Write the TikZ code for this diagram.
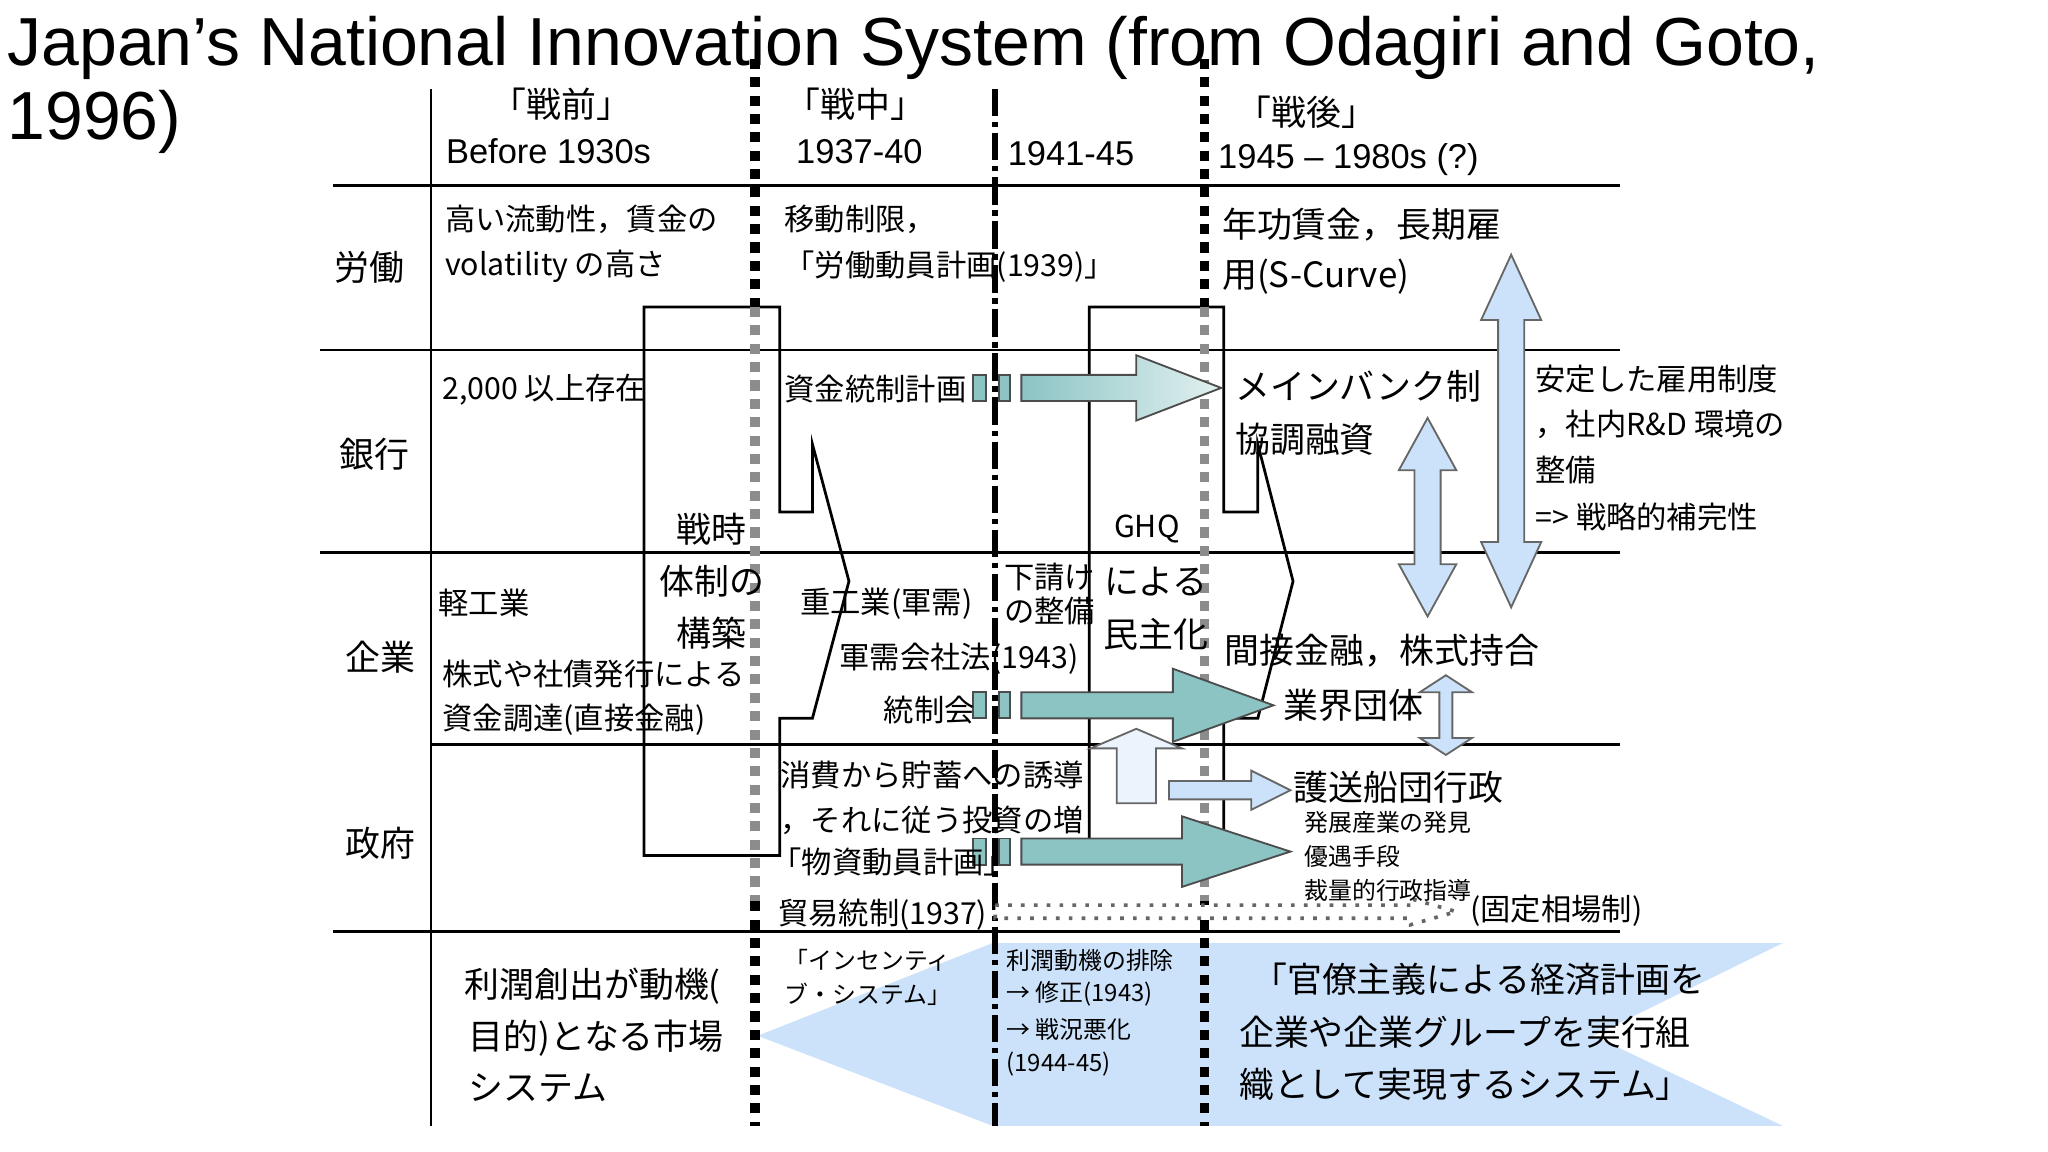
\documentclass[tikz,border=0pt]{standalone}
\usepackage{fontspec}
\setmainfont{Liberation Sans}
\newfontfamily\jp{Noto Sans CJK JP}
\definecolor{lb}{HTML}{CCE2FA}
\definecolor{tl}{HTML}{8CC4C4}
\begin{document}
\begin{tikzpicture}[x=0.01cm,y=-0.01cm,
 t/.style={anchor=west,inner sep=0pt,font=\jp\fontsize{6.6}{8}\selectfont},
 tb/.style={anchor=west,inner sep=0pt,font=\jp\fontsize{7.6}{9}\selectfont},
 ts/.style={anchor=west,inner sep=0pt,font=\jp\fontsize{5.2}{6}\selectfont},
 en/.style={anchor=west,inner sep=0pt,font=\fontsize{7.5}{9}\selectfont},
 grid/.style={line width=0.6pt,black},
 blk/.style={draw=black,line width=0.6pt},
 dots/.style={line width=2pt,dash pattern=on 2.2pt off 1.8pt},
 teal/.style={draw=black!70,line width=0.4pt,fill=tl},
 blue/.style={draw=black!60,line width=0.4pt,fill=lb}]
\useasboundingbox (0,0) rectangle (1568,882);
% bottom blue shape
\fill[lb] (580,793) -- (760,722) -- (1365,722) -- (1220,793) -- (1365,862) -- (760,862) -- cycle;
% grid
\draw[grid] (255,142) -- (1240,142);
\draw[grid] (245,268) -- (1240,268);
\draw[grid] (245,423) -- (1240,423);
\draw[grid] (330,570) -- (1240,570);
\draw[grid] (255,713) -- (1240,713);
\draw[grid] (330,68) -- (330,862);
% block chevrons
\draw[blk] (493,235) -- (597,235) -- (597,392) -- (622,392) -- (622,340) -- (650,445) -- (622,550) -- (597,550) -- (597,655) -- (493,655) -- cycle;
\draw[blk] (834,235) -- (937,235) -- (937,392) -- (963,392) -- (963,340) -- (990,445) -- (963,550) -- (937,550) -- (937,655) -- (834,655) -- cycle;
% time dividers
\draw[dots] (578,45) -- (578,235);
\draw[dots,black!45] (578,235) -- (578,690);
\draw[dots] (578,690) -- (578,862);
\draw[line width=1.3pt,dash pattern=on 6pt off 1.2pt on 1.2pt off 1.2pt] (762,68) -- (762,862);
\draw[dots] (922,45) -- (922,235);
\draw[dots,black!45] (922,235) -- (922,690);
\draw[dots] (922,690) -- (922,862);
% teal arrows
\foreach \y in {297,540,652}{
 \draw[teal] (745,\y-10) rectangle (755,\y+10);
 \draw[teal] (765,\y-10) rectangle (773,\y+10);}
\draw[teal,left color=tl,right color=tl!25] (782,287) -- (870,287) -- (870,272) -- (935,297) -- (870,322) -- (870,307) -- (782,307) -- cycle;
\draw[teal] (782,530) -- (898,530) -- (898,512) -- (975,540) -- (898,568) -- (898,550) -- (782,550) -- cycle;
\draw[teal] (782,642) -- (905,642) -- (905,625) -- (988,652) -- (905,679) -- (905,662) -- (782,662) -- cycle;
% blue arrows
\draw[blue] (1157,195) -- (1180,245) -- (1167,245) -- (1167,415) -- (1180,415) -- (1157,465) -- (1134,415) -- (1147,415) -- (1147,245) -- (1134,245) -- cycle;
\draw[blue] (1093,320) -- (1115,360) -- (1103,360) -- (1103,432) -- (1115,432) -- (1093,472) -- (1071,432) -- (1083,432) -- (1083,360) -- (1071,360) -- cycle;
\draw[blue] (1107,517) -- (1127,530) -- (1112,530) -- (1112,565) -- (1127,565) -- (1107,578) -- (1087,565) -- (1102,565) -- (1102,530) -- (1087,530) -- cycle;
\draw[blue] (988,605) -- (958,590) -- (958,598) -- (895,598) -- (895,612) -- (958,612) -- (958,620) -- cycle;
\draw[blue,fill=lb!40] (870,558) -- (905,573) -- (885,573) -- (885,615) -- (855,615) -- (855,573) -- (835,573) -- cycle;
\draw[black!60,dotted,line width=0.8pt,fill=white] (762,693) -- (1080,693) -- (1080,688) -- (1115,698) -- (1080,708) -- (1080,703) -- (762,703) -- cycle;
% title
\node[anchor=west,inner sep=0pt,font=\fontsize{14.8}{16}\selectfont] at (5,37) {Japan’s National Innovation System (from Odagiri and Goto,};
\node[anchor=west,inner sep=0pt,font=\fontsize{14.8}{16}\selectfont] at (5,93) {1996)};
% headers
\node[t,anchor=center,font=\jp\fontsize{7.6}{9}\selectfont] at (430,80) {「戦前」};
\node[en,anchor=center] at (420,116) {Before 1930s};
\node[t,anchor=center,font=\jp\fontsize{7.6}{9}\selectfont] at (655,80) {「戦中」};
\node[en,anchor=center] at (658,116) {1937-40};
\node[en,anchor=center] at (820,118) {1941-45};
\node[t,anchor=center,font=\jp\fontsize{7.6}{9}\selectfont] at (1000,86) {「戦後」};
\node[en] at (932,122) {1945 – 1980s (?)};
% row labels
\node[tb,anchor=center] at (283,205) {労働};
\node[tb,anchor=center] at (287,348) {銀行};
\node[tb,anchor=center] at (291,503) {企業};
\node[tb,anchor=center] at (291,646) {政府};
% labour
\node[t] at (340,168) {高い流動性，賃金の};
\node[t] at (340,204) {volatility の高さ};
\node[t] at (600,168) {移動制限，};
\node[t] at (600,204) {「労働動員計画(1939)」};
\node[tb] at (935,172) {年功賃金，長期雇};
\node[tb] at (935,212) {用(S-Curve)};
% banks
\node[t] at (338,298) {2,000 以上存在};
\node[t] at (600,298) {資金統制計画};
\node[tb] at (945,296) {メインバンク制};
\node[tb] at (945,336) {協調融資};
\node[t] at (1175,290) {安定した雇用制度};
\node[t] at (1175,325) {，社内R\&D 環境の};
\node[t] at (1175,360) {整備};
\node[t] at (1175,396) {=> 戦略的補完性};
\node[tb,anchor=center] at (545,405) {戦時};
\node[tb,anchor=center] at (545,445) {体制の};
\node[tb,anchor=center] at (545,485) {構築};
\node[t,anchor=center] at (878,405) {GHQ};
\node[tb,anchor=center] at (885,445) {による};
\node[tb,anchor=center] at (885,486) {民主化};
% firms
\node[t] at (335,462) {軽工業};
\node[t] at (338,516) {株式や社債発行による};
\node[t] at (338,551) {資金調達(直接金融)};
\node[t] at (612,462) {重工業(軍需)};
\node[t] at (642,504) {軍需会社法(1943)};
\node[t] at (676,544) {統制会};
\node[t] at (768,442) {下請け};
\node[t] at (768,468) {の整備};
\node[tb] at (937,498) {間接金融，株式持合};
\node[tb] at (982,540) {業界団体};
% government
\node[t] at (597,593) {消費から貯蓄への誘導};
\node[t] at (597,628) {，それに従う投資の増};
\node[t] at (590,660) {「物資動員計画」};
\node[t] at (595,700) {貿易統制(1937)};
\node[tb] at (990,603) {護送船団行政};
\node[ts] at (998,630) {発展産業の発見};
\node[ts] at (998,656) {優遇手段};
\node[ts] at (998,682) {裁量的行政指導};
\node[t] at (1125,697) {(固定相場制)};
% bottom
\node[tb] at (355,755) {利潤創出が動機(};
\node[tb] at (358,795) {目的)となる市場};
\node[tb] at (358,833) {システム};
\node[ts] at (600,735) {「インセンティ};
\node[ts] at (600,761) {ブ・システム」};
\node[ts] at (770,735) {利潤動機の排除};
\node[ts] at (770,761) {→ 修正(1943)};
\node[ts] at (770,788) {→ 戦況悪化};
\node[ts] at (770,815) {(1944-45)};
\node[tb] at (958,750) {「官僚主義による経済計画を};
\node[tb] at (948,790) {企業や企業グループを実行組};
\node[tb] at (948,830) {織として実現するシステム」};
\end{tikzpicture}
\end{document}
